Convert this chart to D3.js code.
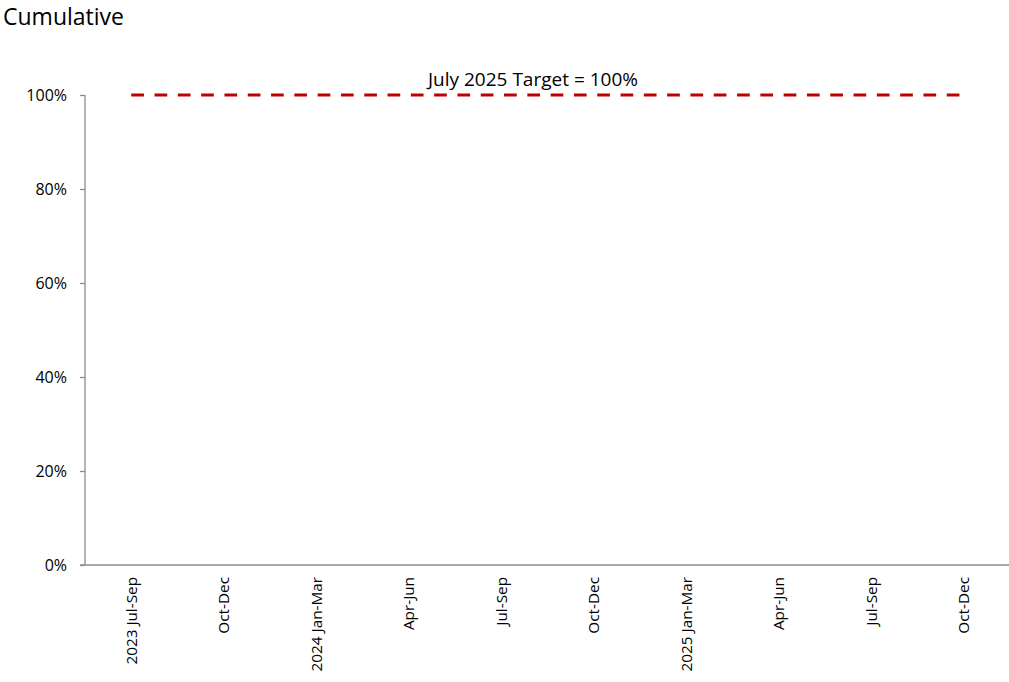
<!DOCTYPE html>
<html><head><meta charset="utf-8">
<script src="https://cdn.jsdelivr.net/npm/d3@7"></script>
<style>body{margin:0;background:#fff;} svg{display:block;} text{font-family:"Open Sans","Noto Sans",sans-serif;fill:#000;}</style>
</head><body>
<svg id="c" width="1009" height="682"></svg>
<script>
const categories = ["2023 Jul-Sep","Oct-Dec","2024 Jan-Mar","Apr-Jun","Jul-Sep","Oct-Dec","2025 Jan-Mar","Apr-Jun","Jul-Sep","Oct-Dec"];
const yTicks = [0,20,40,60,80,100];
const targetValues = [100,100,100,100,100,100,100,100,100,100];
const targetLabel = "July 2025 Target = 100%";
const title = "Cumulative";

const svg = d3.select("#c");
const m = {left:85, right:1010, top:95, bottom:565};
const x = d3.scaleBand().domain(categories.map((d,i)=>i)).range([m.left, m.right]);
const cx = i => x(i) + x.bandwidth()/2;
const y = d3.scaleLinear().domain([0,100]).range([m.bottom, m.top]);

svg.append("text").attr("x",3).attr("y",25).attr("font-size",23).text(title);

// y axis
const ya = svg.append("g").attr("transform",`translate(${m.left},0)`)
  .call(d3.axisLeft(y).tickValues(yTicks).tickSize(5).tickPadding(13).tickFormat(d=>d+"%"));
ya.select(".domain").attr("stroke","#8c8c8c").attr("stroke-width",1.3).attr("d",`M0,${y(0)}V${y(100)}`);
ya.selectAll(".tick line").attr("stroke","#8c8c8c").attr("stroke-width",1.3);
ya.selectAll(".tick text").attr("font-size",16).attr("fill","#000");

// x axis
const xa = svg.append("g").attr("transform",`translate(0,${m.bottom})`)
  .call(d3.axisBottom(x).tickSize(0).tickFormat(i=>categories[i]));
xa.select(".domain").attr("stroke","#8c8c8c").attr("stroke-width",1.3).attr("d",`M${m.left-5},0H${m.right+1}`);
xa.selectAll(".tick text").attr("font-size",15.3).attr("fill","#000")
  .attr("transform","rotate(-90)").attr("text-anchor","end").attr("x",-12).attr("y",0).attr("dy","0.35em");

// target line
const line = d3.line().x((d,i)=>cx(i)).y(d=>y(d));
svg.append("path").datum(targetValues).attr("d",line).attr("fill","none")
  .attr("stroke","#c00000").attr("stroke-width",3).attr("stroke-dasharray","12.7,10.6");
svg.append("text").attr("x",533).attr("y",y(100)-9).attr("text-anchor","middle").attr("font-size",19).text(targetLabel);
</script>
</body></html>
